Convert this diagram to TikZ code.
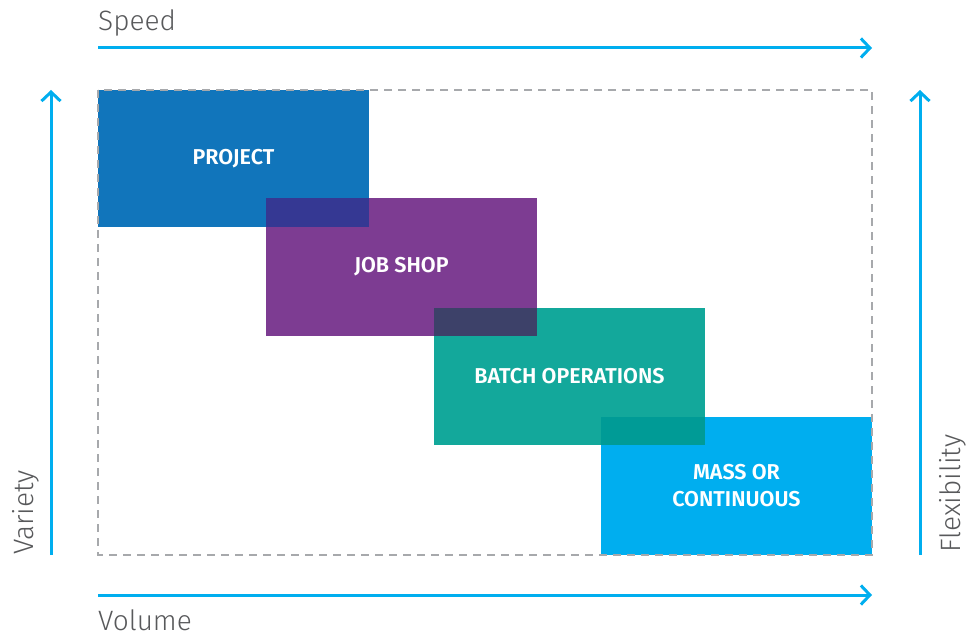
\documentclass[tikz,border=0pt]{standalone}
\usepackage{fontspec}
\setmainfont{Fira Sans}
\newfontfamily\axisfont{Fira Sans Light}
\newfontfamily\boxfont{Fira Sans SemiBold}
\usetikzlibrary{arrows.meta}

\definecolor{axisblue}{HTML}{00AEEF}
\definecolor{labelgrey}{HTML}{58595B}
\definecolor{frame}{HTML}{A7A9AC}
\definecolor{projectc}{HTML}{1175BB}
\definecolor{jobc}{HTML}{7D3C92}
\definecolor{batchc}{HTML}{13A89B}
\definecolor{massc}{HTML}{00AEEF}
\definecolor{ovA}{HTML}{353893}
\definecolor{ovB}{HTML}{3D4169}
\definecolor{ovC}{HTML}{009B96}

\tikzset{
  axis/.style={draw=axisblue, line width=3pt,
    -{Straight Barb[length=9pt, width=19pt, line width=3pt]}},
  axislabel/.style={font=\axisfont\fontsize{28}{32}\selectfont, text=labelgrey,
    inner sep=0pt},
  procbox/.style={minimum width=271pt, minimum height=137.5pt, inner sep=0pt,
    text=white, align=center,
    font=\boxfont\fontsize{21.5}{27}\selectfont},
}

\begin{document}
\begin{tikzpicture}[x=1pt, y=-1pt]
  \useasboundingbox (0,0) rectangle (967,636);

  % process blocks
  \node[procbox, fill=projectc] (project) at (233.5,158.5) {PROJECT};
  \node[procbox, fill=jobc] (job) at (401.5,267) {JOB SHOP};
  \node[procbox, fill=batchc] (batch) at (569.5,376.5) {BATCH OPERATIONS};
  \node[procbox, fill=massc] (mass) at (736.5,486) {MASS OR\\CONTINUOUS};

  % overlapping corners
  \fill[ovA] (job.north west) rectangle (project.south east);
  \fill[ovB] (batch.north west) rectangle (job.south east);
  \fill[ovC] (mass.north west) rectangle (batch.south east);

  % dashed frame
  \draw[frame, line width=1.5pt, dash pattern=on 8pt off 6pt]
    (98,90) rectangle (872,555);

  % axes
  \coordinate (speedA) at (98,48);
  \coordinate (speedB) at (872,48);
  \coordinate (volA) at (98,595);
  \coordinate (volB) at (872,595);
  \coordinate (varA) at (51,555);
  \coordinate (varB) at (51,90);
  \coordinate (flexA) at (920,555);
  \coordinate (flexB) at (920,90);
  \draw[axis] (speedA) -- (speedB);
  \draw[axis] (volA) -- (volB);
  \draw[axis] (varA) -- (varB);
  \draw[axis] (flexA) -- (flexB);

  % axis labels
  \node[axislabel, anchor=base west] (speed) at (98,31) {Speed};
  \node[axislabel, anchor=base west] (volume) at (98,630) {Volume};
  \node[axislabel, anchor=base west, rotate=90] (variety) at (33,555) {Variety};
  \node[axislabel, anchor=base west, rotate=90] (flex) at (960,553) {Flexibility};
\end{tikzpicture}
\end{document}
